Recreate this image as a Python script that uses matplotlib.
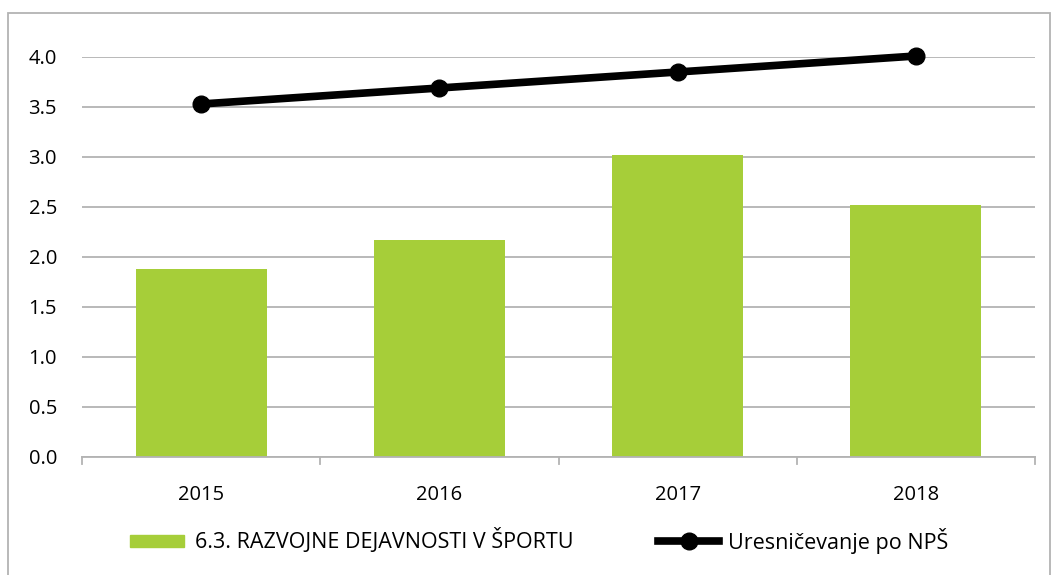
import matplotlib
matplotlib.use("Agg")
import matplotlib.pyplot as plt
from matplotlib.patches import Rectangle
from matplotlib.lines import Line2D
import numpy as np

plt.rcParams['font.family'] = ['Open Sans', 'DejaVu Sans']

years = ['2015', '2016', '2017', '2018']
razvojne = [1.88, 2.17, 3.02, 2.52]
npš = [3.53, 3.69, 3.85, 4.01]
bar_label = '6.3. RAZVOJNE DEJAVNOSTI V ŠPORTU'
line_label = 'Uresničevanje po NPŠ'

green = '#a6ce39'
grid = '#b3b3b3'
fs = 14.5
lfs = 15.5

fig = plt.figure(figsize=(10.58, 5.75), dpi=100)
ax = fig.add_axes([82 / 1058, 1 - 457 / 575, (1035 - 82) / 1058, 400 / 575])

x = np.arange(len(years))
ax.bar(x, razvojne, width=0.55, color=green, zorder=2)
ax.plot(x, npš, color='black', lw=5.5, marker='o', ms=12, zorder=3, clip_on=False)

ax.set_xlim(-0.5, len(years) - 0.5)
ax.set_ylim(0, 4.0)
ax.set_yticks(np.arange(0, 4.01, 0.5))
ax.set_yticklabels([f'{v:.1f}' for v in np.arange(0, 4.01, 0.5)])
ax.yaxis.grid(True, color=grid, lw=1.3, zorder=0)
ax.tick_params(axis='y', length=0, pad=18, labelsize=fs)
ax.set_xticks(x)
ax.set_xticklabels(years)
ax.tick_params(axis='x', length=0, pad=20, labelsize=fs)
for b in np.arange(-0.5, len(years), 1):
    ax.plot([b, b], [0, -0.07], color=grid, lw=1.3, clip_on=False)

for s in ['top', 'right', 'left']:
    ax.spines[s].set_visible(False)
ax.spines['bottom'].set_color(grid)
ax.spines['bottom'].set_linewidth(1.3)
ax.set_axisbelow(True)

# outer frame
fig.patches.append(Rectangle((8 / 1058, -0.05), 1042 / 1058, 1 - 13 / 575 + 0.05,
                             transform=fig.transFigure, fill=False,
                             edgecolor=grid, lw=1.3))

handles = [Rectangle((0, 0), 1, 1, color=green),
           Line2D([0], [0], color='black', lw=5.5, marker='o', ms=12)]
fig.legend(handles[:1], [bar_label], loc='center left',
           bbox_to_anchor=(111 / 1058, 1 - 541 / 575), frameon=False,
           fontsize=lfs, handlelength=2.5, handleheight=0.5, handletextpad=0.5)
fig.legend(handles[1:], [line_label], loc='center left',
           bbox_to_anchor=(639 / 1058, 1 - 541 / 575), frameon=False,
           fontsize=lfs, handlelength=2.8, handletextpad=0.45)

fig.savefig('out.png', dpi=100)
